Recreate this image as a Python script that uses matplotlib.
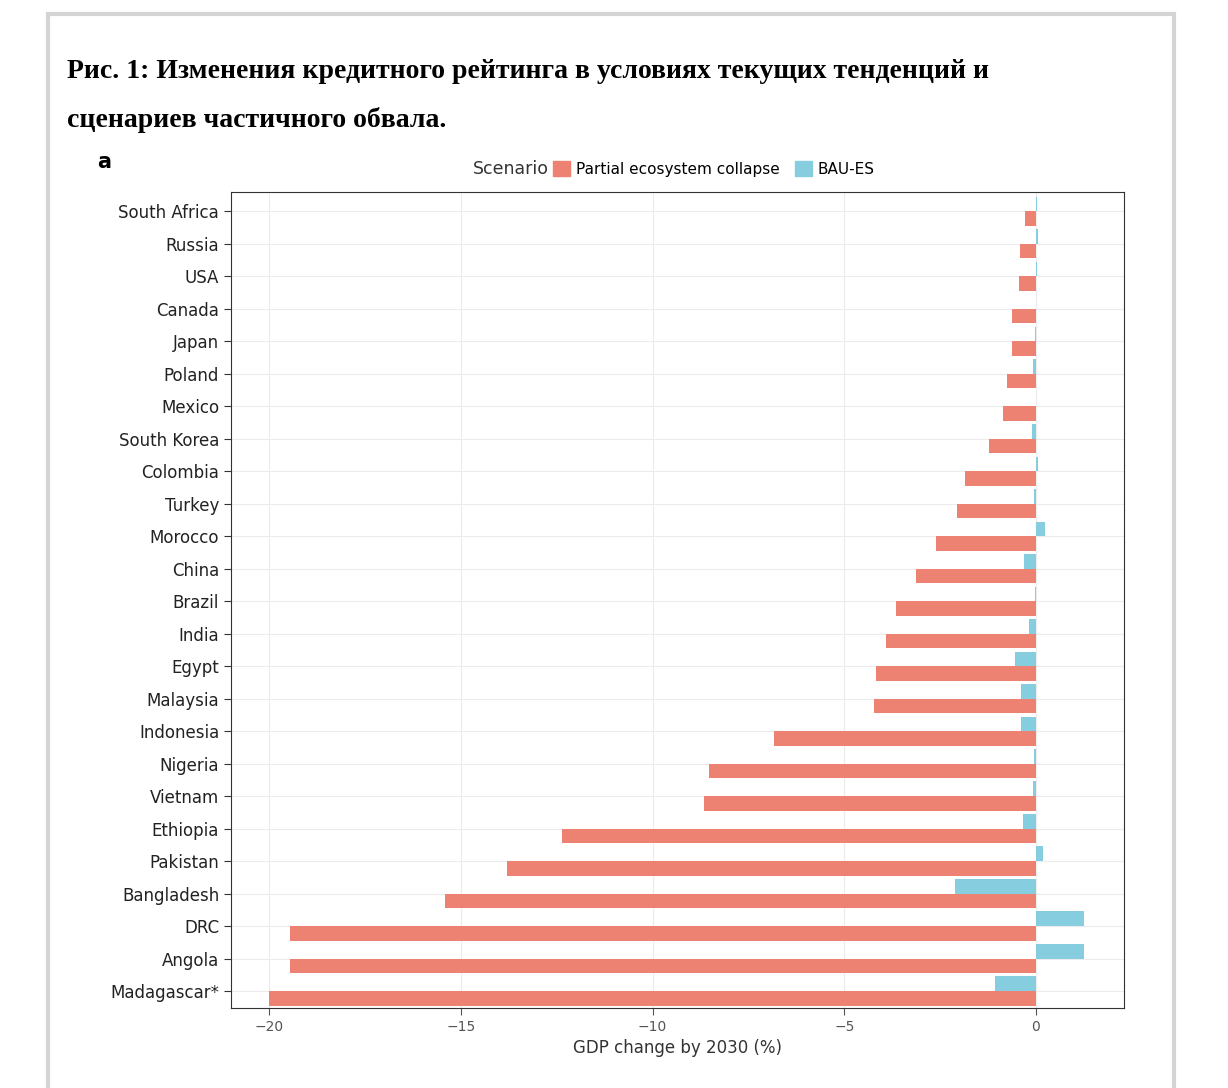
import matplotlib
matplotlib.use("Agg")
import matplotlib.pyplot as plt
import numpy as np
from matplotlib.patches import Rectangle, Patch

countries = ["South Africa", "Russia", "USA", "Canada", "Japan", "Poland", "Mexico",
             "South Korea", "Colombia", "Turkey", "Morocco", "China", "Brazil", "India",
             "Egypt", "Malaysia", "Indonesia", "Nigeria", "Vietnam", "Ethiopia",
             "Pakistan", "Bangladesh", "DRC", "Angola", "Madagascar*"]
partial = [-0.29, -0.42, -0.44, -0.63, -0.63, -0.76, -0.86, -1.23, -1.86, -2.07,
           -2.61, -3.14, -3.66, -3.92, -4.16, -4.21, -6.82, -8.52, -8.65, -12.37,
           -13.80, -15.42, -19.45, -19.45, -20.0]
bau = [0.02, 0.05, 0.02, 0.01, -0.02, -0.08, 0.01, -0.1, 0.05, -0.05,
       0.25, -0.3, -0.03, -0.18, -0.55, -0.38, -0.38, -0.05, -0.08, -0.33,
       0.18, -2.1, 1.25, 1.25, -1.07]

RED = "#ED8273"
BLUE = "#86CEDF"

fig = plt.figure(figsize=(12.28, 10.88), dpi=100)
fig.patches.append(Rectangle((48 / 1228, -0.01), 1126 / 1228, 1 - 14 / 1088 + 0.01,
                             transform=fig.transFigure, fill=False,
                             edgecolor="#d4d4d4", linewidth=3))

fig.text(67 / 1228, 1 - 72 / 1088, "Рис. 1: Изменения кредитного рейтинга в условиях текущих тенденций и",
         family="Liberation Serif", fontweight="bold", fontsize=20, va="center")
fig.text(67 / 1228, 1 - 120 / 1088, "сценариев частичного обвала.",
         family="Liberation Serif", fontweight="bold", fontsize=20, va="center")
fig.text(97 / 1228, 1 - 162 / 1088, "a", fontweight="bold", fontsize=15, va="center")

ax = fig.add_axes([231 / 1228, 1 - 1008 / 1088, 893 / 1228, 816 / 1088])
y = np.arange(len(countries))
h = 0.45
ax.barh(y + h / 2, partial, height=h, color=RED)
ax.barh(y - h / 2, bau, height=h, color=BLUE)
ax.set_yticks(y)
ax.set_yticklabels(countries)
ax.set_ylim(len(countries) - 0.48, -0.59)
ax.set_xlim(-21.0, 2.3)
ax.set_xticks([-20, -15, -10, -5, 0])
ax.set_xticklabels(["−20", "−15", "−10", "−5", "0"])
ax.grid(True, color="#ececec", linewidth=0.8)
ax.set_axisbelow(True)
ax.tick_params(axis="y", labelsize=12, colors="#333333", length=5)
ax.tick_params(axis="x", labelsize=10, colors="#555555", length=5)
for lab in ax.get_yticklabels():
    lab.set_color("#222222")
for s in ax.spines.values():
    s.set_color("#333333")
ax.set_xlabel("GDP change by 2030 (%)", fontsize=12, color="#333333")

fig.text(473 / 1228, 1 - 169 / 1088, "Scenario", fontsize=12.5, color="#333333", va="center")
handles = [Patch(color=RED), Patch(color=BLUE)]
fig.legend(handles, ["Partial ecosystem collapse", "BAU-ES"],
           loc="center left", bbox_to_anchor=(553 / 1228, 1 - 169 / 1088), ncol=2,
           frameon=False, fontsize=11, handlelength=1.1, handleheight=1.1,
           columnspacing=1.0, handletextpad=0.4, borderpad=0, borderaxespad=0)

fig.savefig("out.png", dpi=100)
